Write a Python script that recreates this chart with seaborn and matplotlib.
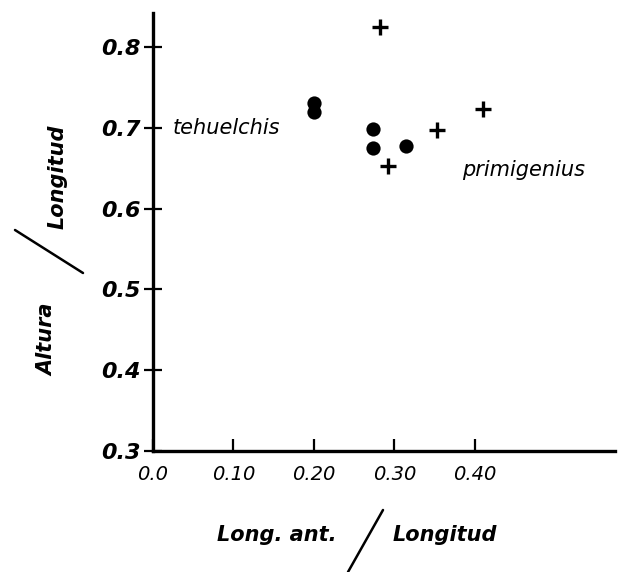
import pandas as pd
import seaborn as sns
import matplotlib.pyplot as plt
from matplotlib.lines import Line2D

# Values
teh_x = [0.20, 0.20, 0.273, 0.273, 0.314]
teh_y = [0.731, 0.720, 0.698, 0.675, 0.677]
pri_x = [0.282, 0.292, 0.353, 0.410]
pri_y = [0.825, 0.653, 0.697, 0.723]

x_ticks = [0.0, 0.10, 0.20, 0.30, 0.40]
x_labels = ['0.0', '0.10', '0.20', '0.30', '0.40']
y_ticks = [0.3, 0.4, 0.5, 0.6, 0.7, 0.8]
y_labels = ['0.3', '0.4', '0.5', '0.6', '0.7', '0.8']

df_t = pd.DataFrame({'x': teh_x, 'y': teh_y})
df_p = pd.DataFrame({'x': pri_x, 'y': pri_y})

sns.set_style('ticks')
plt.rcParams['font.family'] = ['DejaVu Sans']
plt.rcParams['text.color'] = 'black'
plt.rcParams['xtick.color'] = 'black'
plt.rcParams['ytick.color'] = 'black'

fig = plt.figure(figsize=(6.24, 5.72), dpi=100)
ax = fig.add_axes([0.245, 0.2115, 0.7404, 0.7657])

sns.scatterplot(data=df_t, x='x', y='y', marker='o', color='black', s=105,
                edgecolor='black', linewidth=0, ax=ax)
sns.scatterplot(data=df_p, x='x', y='y', marker='+', color='black', s=130,
                linewidth=2.4, ax=ax)

ax.set_xlim(0, 0.574)
ax.set_ylim(0.3, 0.842)
sns.despine(ax=ax)
for side in ['left', 'bottom']:
    ax.spines[side].set_linewidth(2.4)
    ax.spines[side].set_color('black')

ax.set_xticks(x_ticks)
ax.set_xticklabels(x_labels, fontsize=14, style='italic', color='black')
ax.set_yticks(y_ticks)
ax.set_yticklabels(y_labels, fontsize=16, style='italic', fontweight='bold', color='black')
ax.tick_params(axis='y', direction='inout', length=13, width=1.6, pad=2)
ax.tick_params(axis='x', direction='in', length=9, width=1.6, pad=10)
ax.set_xlabel('')
ax.set_ylabel('')

# group labels
ax.text(0.024, 0.70, 'tehuelchis', fontsize=15, style='italic',
        va='center', ha='left', color='black')
ax.text(0.384, 0.648, 'primigenius', fontsize=15, style='italic',
        va='center', ha='left', color='black')

# axis titles written as fractions with a slash
fig.text(217 / 624, 1 - 535 / 572, 'Long. ant.', fontsize=15, style='italic',
         fontweight='bold', va='center', ha='left', color='black')
fig.text(393 / 624, 1 - 535 / 572, 'Longitud', fontsize=15, style='italic',
         fontweight='bold', va='center', ha='left', color='black')
fig.add_artist(Line2D([383 / 624, 348 / 624], [1 - 510 / 572, 1 - 572 / 572],
                      color='black', linewidth=1.8, transform=fig.transFigure))

fig.text(47 / 624, 1 - 340 / 572, 'Altura', fontsize=15, style='italic',
         fontweight='bold', rotation=90, va='center', ha='center', color='black')
fig.text(58 / 624, 1 - 177 / 572, 'Longitud', fontsize=15, style='italic',
         fontweight='bold', rotation=90, va='center', ha='center', color='black')
fig.add_artist(Line2D([15 / 624, 83 / 624], [1 - 230 / 572, 1 - 273 / 572],
                      color='black', linewidth=1.8, transform=fig.transFigure))

fig.savefig('out.png', dpi=100)
